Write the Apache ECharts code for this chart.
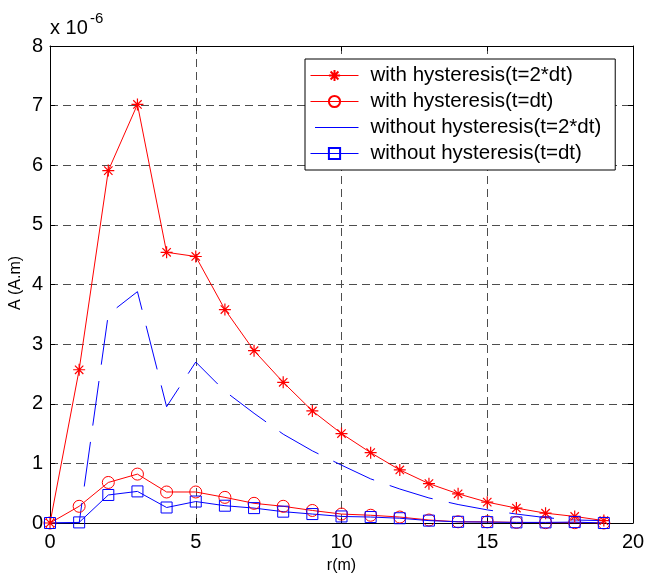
<!DOCTYPE html>
<html>
<head>
<meta charset="utf-8">
<script src="https://cdn.jsdelivr.net/npm/echarts@6/dist/echarts.min.js"></script>
<style>
html,body{margin:0;padding:0;background:#fff;}
#chart{width:648px;height:576px;}
</style>
</head>
<body>
<div id="chart"></div>
<script>
// r (m)
const rValues = [0,1,2,3,4,5,6,7,8,9,10,11,12,13,14,15,16,17,18,19];
// A (A.m), in units of 1e-6
const withHyst2dt = [0, 2.57, 5.91, 7.02, 4.54, 4.47, 3.58, 2.89, 2.36, 1.88, 1.50, 1.18, 0.89, 0.66, 0.49, 0.35, 0.25, 0.165, 0.11, 0.04];
const withHystDt = [0, 0.28, 0.68, 0.82, 0.52, 0.52, 0.43, 0.33, 0.28, 0.21, 0.15, 0.13, 0.10, 0.05, 0.02, 0.02, 0.01, 0.005, 0.005, 0.0];
const withoutHyst2dt = [0, 0, 3.50, 3.88, 1.95, 2.70, 2.21, 1.84, 1.49, 1.21, 0.97, 0.74, 0.57, 0.42, 0.31, 0.22, 0.15, 0.09, 0.05, 0.04];
const withoutHystDt = [0, 0.01, 0.47, 0.53, 0.26, 0.36, 0.29, 0.25, 0.19, 0.15, 0.11, 0.10, 0.08, 0.04, 0.02, 0.015, 0.01, 0.01, 0.015, 0.0];
const seriesNames = ['with hysteresis(t=2*dt)', 'with hysteresis(t=dt)', 'without hysteresis(t=2*dt)', 'without hysteresis(t=dt)'];
const xTicks = {min: 0, max: 20, interval: 5};
const yTicks = {min: 0, max: 8, interval: 1};

const FONT = '"Liberation Sans", Arial, sans-serif';
const pairs = arr => rValues.map((r, i) => [r, arr[i]]);
const starPath = 'path://M5,0L5,10M0,5L10,5M1.5,1.5L8.5,8.5M1.5,8.5L8.5,1.5';

const chart = echarts.init(document.getElementById('chart'), null, {renderer: 'canvas'});
const axisCommon = {
  type: 'value',
  axisLine: {show: true, onZero: false, lineStyle: {color: '#000', width: 1}},
  axisTick: {show: true, inside: true, length: 5, lineStyle: {color: '#000', width: 1}},
};
chart.setOption({
  animation: false,
  backgroundColor: '#fff',
  grid: {left: 50, top: 46, width: 583, height: 477, containLabel: false, outerBoundsMode: 'none'},
  xAxis: [
    Object.assign({}, axisCommon, {
      min: xTicks.min, max: xTicks.max, interval: xTicks.interval, position: 'bottom',
      axisLabel: {show: true, margin: 9, fontSize: 20, fontFamily: FONT, color: '#000'},
      splitLine: {show: true, lineStyle: {color: '#4d4d4d', width: 1, type: [8, 5]}}
    }),
    Object.assign({}, axisCommon, {
      min: xTicks.min, max: xTicks.max, interval: xTicks.interval, position: 'top',
      axisLabel: {show: false}, splitLine: {show: false}
    })
  ],
  yAxis: [
    Object.assign({}, axisCommon, {
      min: yTicks.min, max: yTicks.max, interval: yTicks.interval, position: 'left',
      axisLabel: {show: true, margin: 7, fontSize: 20, fontFamily: FONT, color: '#000'},
      splitLine: {show: true, lineStyle: {color: '#4d4d4d', width: 1, type: [8, 5]}}
    }),
    Object.assign({}, axisCommon, {
      min: yTicks.min, max: yTicks.max, interval: yTicks.interval, position: 'right',
      axisLabel: {show: false}, splitLine: {show: false}
    })
  ],
  legend: {
    orient: 'vertical', left: 305, top: 59,
    padding: [6, 14, 6, 5], itemGap: 5, itemWidth: 48, itemHeight: 14,
    backgroundColor: '#fff', borderColor: '#000', borderWidth: 1, borderRadius: 0,
    lineStyle: {width: 1},
    textStyle: {fontSize: 20.5, fontFamily: FONT, color: '#000', lineHeight: 20, padding: [0, 0, 0, 7]},
    data: [
      seriesNames[0],
      seriesNames[1],
      {name: seriesNames[2], itemStyle: {opacity: 0}},
      seriesNames[3]
    ]
  },
  graphic: [
    {type: 'text', left: 50, top: 18, style: {text: 'x 10', font: '20px ' + FONT, fill: '#000'}},
    {type: 'text', left: 90, top: 11, style: {text: '-6', font: '15px ' + FONT, fill: '#000'}},
    {type: 'text', x: 16, y: 283, rotation: Math.PI / 2,
      style: {text: 'A (A.m)', font: '16px ' + FONT, fill: '#000', align: 'center', verticalAlign: 'middle'}},
    {type: 'text', x: 341.5, y: 566,
      style: {text: 'r(m)', font: '16px ' + FONT, fill: '#000', align: 'center', verticalAlign: 'middle'}}
  ],
  series: [
    {
      name: seriesNames[0], type: 'line', data: pairs(withHyst2dt),
      symbol: starPath, symbolSize: 12, showAllSymbol: true,
      lineStyle: {color: '#ff0000', width: 1},
      itemStyle: {color: 'rgba(0,0,0,0)', borderColor: '#ff0000', borderWidth: 1.2}
    },
    {
      name: seriesNames[1], type: 'line', data: pairs(withHystDt),
      symbol: 'circle', symbolSize: 12, showAllSymbol: true,
      lineStyle: {color: '#ff0000', width: 1},
      itemStyle: {color: 'rgba(0,0,0,0)', borderColor: '#ff0000', borderWidth: 1}
    },
    {
      name: seriesNames[2], type: 'line', data: pairs(withoutHyst2dt),
      symbol: 'none', showSymbol: false,
      lineStyle: {color: '#0000ff', width: 1, type: [45, 16.5], dashOffset: 57},
      itemStyle: {color: '#0000ff'}
    },
    {
      name: seriesNames[3], type: 'line', data: pairs(withoutHystDt),
      symbol: 'rect', symbolSize: 11, showAllSymbol: true,
      lineStyle: {color: '#0000ff', width: 1},
      itemStyle: {color: 'rgba(0,0,0,0)', borderColor: '#0000ff', borderWidth: 1}
    }
  ]
});
</script>
</body>
</html>
